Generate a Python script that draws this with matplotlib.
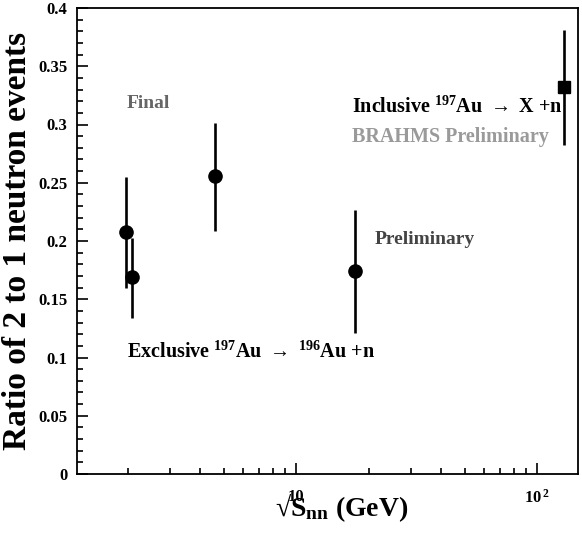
import matplotlib
matplotlib.use('Agg')
import matplotlib.pyplot as plt
from matplotlib.ticker import MultipleLocator, FixedLocator, FixedFormatter, LogLocator, NullFormatter

plt.rcParams['font.family'] = ['Liberation Serif', 'DejaVu Serif']
plt.rcParams['font.weight'] = 'bold'
plt.rcParams['mathtext.fontset'] = 'custom'
plt.rcParams['mathtext.rm'] = 'Liberation Serif:bold'
plt.rcParams['mathtext.bf'] = 'Liberation Serif:bold'
plt.rcParams['mathtext.it'] = 'Liberation Serif:bold'

# exclusive 197Au -> 196Au + n (circles)
sqrt_s = [1.97, 2.09, 4.6, 17.6]
ratio = [0.208, 0.169, 0.256, 0.174]
err_lo = [0.048, 0.035, 0.047, 0.053]
err_hi = [0.047, 0.034, 0.045, 0.053]

# inclusive 197Au -> X + n (square, BRAHMS)
incl_s = [130.0]
incl_ratio = [0.332]
incl_lo = [0.050]
incl_hi = [0.049]

xtick_vals = [10, 100]
xtick_text = ['10', r'10$^{\,2}$']

fig = plt.figure(figsize=(5.82, 5.35), dpi=100)
ax = fig.add_axes([77 / 582, 61 / 535, 501 / 582, 466 / 535])

ax.errorbar(sqrt_s, ratio, yerr=[err_lo, err_hi], fmt='o', color='black',
            ms=9.5, elinewidth=1.9, capsize=0)
ax.errorbar(incl_s, incl_ratio, yerr=[incl_lo, incl_hi], fmt='s', color='black',
            ms=8, elinewidth=1.9, capsize=0)

ax.set_xscale('log')
ax.set_xlim(1.23, 148)
ax.set_ylim(0, 0.4)

ax.xaxis.set_major_locator(FixedLocator(xtick_vals))
ax.xaxis.set_major_formatter(FixedFormatter(xtick_text))
ax.xaxis.set_minor_locator(LogLocator(base=10, subs=range(2, 10)))
ax.xaxis.set_minor_formatter(NullFormatter())
ax.set_yticks([0, 0.05, 0.1, 0.15, 0.2, 0.25, 0.3, 0.35, 0.4])
ax.set_yticklabels(['0', '0.05', '0.1', '0.15', '0.2', '0.25', '0.3', '0.35', '0.4'])
ax.yaxis.set_minor_locator(MultipleLocator(0.01))

ax.tick_params(which='both', direction='in', top=False, right=False, width=1.2)
ax.tick_params(axis='y', which='major', length=8, pad=7, labelsize=12)
ax.tick_params(axis='y', which='minor', length=4)
ax.tick_params(axis='x', which='major', length=8, pad=11, labelsize=12)
ax.tick_params(axis='x', which='minor', length=4)
for s in ax.spines.values():
    s.set_linewidth(1.3)

ax.set_ylabel('Ratio of 2 to 1 neutron events', fontsize=24, fontweight='bold')
ax.yaxis.set_label_coords(-0.088, 0.5)
ax.set_xlabel('√S$_{\\mathbf{nn}}$ (GeV)', fontsize=20, fontweight='bold')
ax.xaxis.set_label_coords((342 - 77) / 501, -0.036)

# annotation positions in pixels from the top-left corner
ax.text(127, 535 - 352, r'Exclusive $^{197}$Au $\rightarrow$ $^{196}$Au +n', transform=None,
        fontsize=14.5, fontweight='bold', va='center', ha='left')
ax.text(352, 535 - 107, r'Inclusive $^{197}$Au $\rightarrow$ X +n', transform=None,
        fontsize=14.5, fontweight='bold', va='center', ha='left')
ax.text(352, 535 - 137, 'BRAHMS Preliminary', transform=None,
        fontsize=14.5, fontweight='bold', color='#9a9a9a', va='center', ha='left')
ax.text(375, 535 - 240, 'Preliminary', transform=None,
        fontsize=14, fontweight='bold', color='#444444', va='center', ha='left')
ax.text(127, 535 - 103, 'Final', transform=None,
        fontsize=14, fontweight='bold', color='#666666', va='center', ha='left')

fig.savefig('out.png', dpi=100)
